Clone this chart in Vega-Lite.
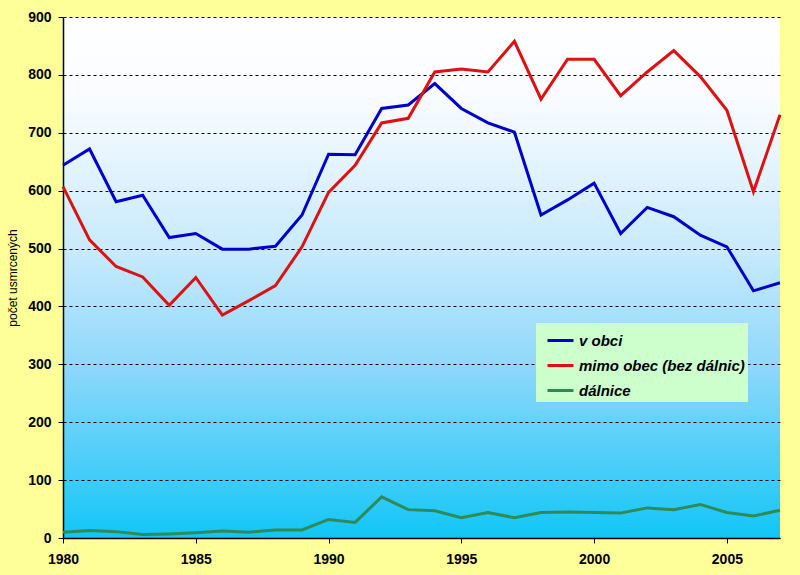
{
  "$schema": "https://vega.github.io/schema/vega-lite/v6.json",
  "autosize": "none",
  "width": 717,
  "height": 521,
  "padding": {"left": 63, "top": 17, "right": 20, "bottom": 37},
  "background": "#FFFF99",
  "config": {
    "font": "Liberation Sans",
    "view": {
      "stroke": null,
      "fill": {
        "gradient": "linear",
        "x1": 0, "y1": 0, "x2": 0, "y2": 1,
        "stops": [
          {"offset": 0, "color": "#FFFFFF"},
          {"offset": 0.15, "color": "#FAFCFF"},
          {"offset": 0.45, "color": "#C8EAFC"},
          {"offset": 0.67, "color": "#8ED8FA"},
          {"offset": 0.89, "color": "#3ECCF8"},
          {"offset": 1, "color": "#10C6F6"}
        ]
      }
    }
  },
  "data": {
    "values": [
      {"rok": 1980, "typ": "v obci", "pocet": 644},
      {"rok": 1981, "typ": "v obci", "pocet": 672},
      {"rok": 1982, "typ": "v obci", "pocet": 581},
      {"rok": 1983, "typ": "v obci", "pocet": 592},
      {"rok": 1984, "typ": "v obci", "pocet": 519},
      {"rok": 1985, "typ": "v obci", "pocet": 526},
      {"rok": 1986, "typ": "v obci", "pocet": 499},
      {"rok": 1987, "typ": "v obci", "pocet": 499},
      {"rok": 1988, "typ": "v obci", "pocet": 504},
      {"rok": 1989, "typ": "v obci", "pocet": 558},
      {"rok": 1990, "typ": "v obci", "pocet": 663},
      {"rok": 1991, "typ": "v obci", "pocet": 662},
      {"rok": 1992, "typ": "v obci", "pocet": 742},
      {"rok": 1993, "typ": "v obci", "pocet": 748},
      {"rok": 1994, "typ": "v obci", "pocet": 785},
      {"rok": 1995, "typ": "v obci", "pocet": 742},
      {"rok": 1996, "typ": "v obci", "pocet": 717},
      {"rok": 1997, "typ": "v obci", "pocet": 701},
      {"rok": 1998, "typ": "v obci", "pocet": 558},
      {"rok": 1999, "typ": "v obci", "pocet": 584},
      {"rok": 2000, "typ": "v obci", "pocet": 613},
      {"rok": 2001, "typ": "v obci", "pocet": 526},
      {"rok": 2002, "typ": "v obci", "pocet": 571},
      {"rok": 2003, "typ": "v obci", "pocet": 555},
      {"rok": 2004, "typ": "v obci", "pocet": 523},
      {"rok": 2005, "typ": "v obci", "pocet": 503},
      {"rok": 2006, "typ": "v obci", "pocet": 427},
      {"rok": 2007, "typ": "v obci", "pocet": 441},
      {"rok": 1980, "typ": "mimo obec (bez dálnic)", "pocet": 607},
      {"rok": 1981, "typ": "mimo obec (bez dálnic)", "pocet": 515},
      {"rok": 1982, "typ": "mimo obec (bez dálnic)", "pocet": 469},
      {"rok": 1983, "typ": "mimo obec (bez dálnic)", "pocet": 451},
      {"rok": 1984, "typ": "mimo obec (bez dálnic)", "pocet": 402},
      {"rok": 1985, "typ": "mimo obec (bez dálnic)", "pocet": 450},
      {"rok": 1986, "typ": "mimo obec (bez dálnic)", "pocet": 385},
      {"rok": 1987, "typ": "mimo obec (bez dálnic)", "pocet": 410},
      {"rok": 1988, "typ": "mimo obec (bez dálnic)", "pocet": 436},
      {"rok": 1989, "typ": "mimo obec (bez dálnic)", "pocet": 503},
      {"rok": 1990, "typ": "mimo obec (bez dálnic)", "pocet": 597},
      {"rok": 1991, "typ": "mimo obec (bez dálnic)", "pocet": 644},
      {"rok": 1992, "typ": "mimo obec (bez dálnic)", "pocet": 717},
      {"rok": 1993, "typ": "mimo obec (bez dálnic)", "pocet": 725},
      {"rok": 1994, "typ": "mimo obec (bez dálnic)", "pocet": 805},
      {"rok": 1995, "typ": "mimo obec (bez dálnic)", "pocet": 810},
      {"rok": 1996, "typ": "mimo obec (bez dálnic)", "pocet": 805},
      {"rok": 1997, "typ": "mimo obec (bez dálnic)", "pocet": 858},
      {"rok": 1998, "typ": "mimo obec (bez dálnic)", "pocet": 758},
      {"rok": 1999, "typ": "mimo obec (bez dálnic)", "pocet": 827},
      {"rok": 2000, "typ": "mimo obec (bez dálnic)", "pocet": 827},
      {"rok": 2001, "typ": "mimo obec (bez dálnic)", "pocet": 764},
      {"rok": 2002, "typ": "mimo obec (bez dálnic)", "pocet": 805},
      {"rok": 2003, "typ": "mimo obec (bez dálnic)", "pocet": 842},
      {"rok": 2004, "typ": "mimo obec (bez dálnic)", "pocet": 797},
      {"rok": 2005, "typ": "mimo obec (bez dálnic)", "pocet": 739},
      {"rok": 2006, "typ": "mimo obec (bez dálnic)", "pocet": 598},
      {"rok": 2007, "typ": "mimo obec (bez dálnic)", "pocet": 731},
      {"rok": 1980, "typ": "dálnice", "pocet": 10},
      {"rok": 1981, "typ": "dálnice", "pocet": 13},
      {"rok": 1982, "typ": "dálnice", "pocet": 11},
      {"rok": 1983, "typ": "dálnice", "pocet": 6},
      {"rok": 1984, "typ": "dálnice", "pocet": 7},
      {"rok": 1985, "typ": "dálnice", "pocet": 9},
      {"rok": 1986, "typ": "dálnice", "pocet": 12},
      {"rok": 1987, "typ": "dálnice", "pocet": 10},
      {"rok": 1988, "typ": "dálnice", "pocet": 14},
      {"rok": 1989, "typ": "dálnice", "pocet": 14},
      {"rok": 1990, "typ": "dálnice", "pocet": 32},
      {"rok": 1991, "typ": "dálnice", "pocet": 27},
      {"rok": 1992, "typ": "dálnice", "pocet": 71},
      {"rok": 1993, "typ": "dálnice", "pocet": 49},
      {"rok": 1994, "typ": "dálnice", "pocet": 47},
      {"rok": 1995, "typ": "dálnice", "pocet": 35},
      {"rok": 1996, "typ": "dálnice", "pocet": 44},
      {"rok": 1997, "typ": "dálnice", "pocet": 35},
      {"rok": 1998, "typ": "dálnice", "pocet": 44},
      {"rok": 1999, "typ": "dálnice", "pocet": 45},
      {"rok": 2000, "typ": "dálnice", "pocet": 44},
      {"rok": 2001, "typ": "dálnice", "pocet": 43},
      {"rok": 2002, "typ": "dálnice", "pocet": 52},
      {"rok": 2003, "typ": "dálnice", "pocet": 49},
      {"rok": 2004, "typ": "dálnice", "pocet": 58},
      {"rok": 2005, "typ": "dálnice", "pocet": 44},
      {"rok": 2006, "typ": "dálnice", "pocet": 38},
      {"rok": 2007, "typ": "dálnice", "pocet": 48}
    ]
  },
  "mark": {"type": "line", "strokeWidth": 3, "strokeJoin": "miter"},
  "encoding": {
    "x": {
      "field": "rok", "type": "quantitative",
      "scale": {"domain": [1980, 2007], "nice": false, "zero": false},
      "axis": {
        "title": null,
        "values": [1980, 1985, 1990, 1995, 2000, 2005],
        "format": "d",
        "grid": false,
        "labelFlush": false,
        "labelOverlap": false,
        "domainColor": "#000000",
        "domainWidth": 1.5,
        "tickColor": "#000000",
        "tickSize": 5,
        "labelFontSize": 14,
        "labelFontWeight": "bold",
        "labelColor": "#000000",
        "labelPadding": 9
      }
    },
    "y": {
      "field": "pocet", "type": "quantitative",
      "scale": {"domain": [0, 900], "nice": false},
      "axis": {
        "title": "počet usmrcených",
        "titleFontSize": 12,
        "titleFontWeight": "normal",
        "titleColor": "#000000",
        "titlePadding": 8,
        "values": [0, 100, 200, 300, 400, 500, 600, 700, 800, 900],
        "grid": true,
        "gridColor": "#000000",
        "gridDash": [3, 3],
        "gridWidth": 1,
        "labelFlush": false,
        "domainColor": "#000000",
        "domainWidth": 1.5,
        "tickColor": "#000000",
        "tickSize": 5,
        "labelFontSize": 14,
        "labelFontWeight": "bold",
        "labelColor": "#000000",
        "labelPadding": 7
      }
    },
    "color": {
      "field": "typ", "type": "nominal",
      "scale": {
        "domain": ["v obci", "mimo obec (bez dálnic)", "dálnice"],
        "range": ["#0000CC", "#DD1111", "#2E8B57"]
      },
      "legend": {
        "title": null,
        "orient": "none",
        "legendX": 473,
        "legendY": 306,
        "fillColor": "#CCFFCC",
        "padding": 3,
        "symbolType": "stroke",
        "symbolSize": 676,
        "symbolStrokeWidth": 3,
        "labelFontSize": 15,
        "labelFontStyle": "italic",
        "labelFontWeight": "bold",
        "labelColor": "#000000",
        "labelLimit": 400,
        "rowPadding": 2,
        "labelOffset": 4,
        "symbolOffset": 7
      }
    },
    "order": {"field": "rok", "type": "quantitative"}
  }
}
